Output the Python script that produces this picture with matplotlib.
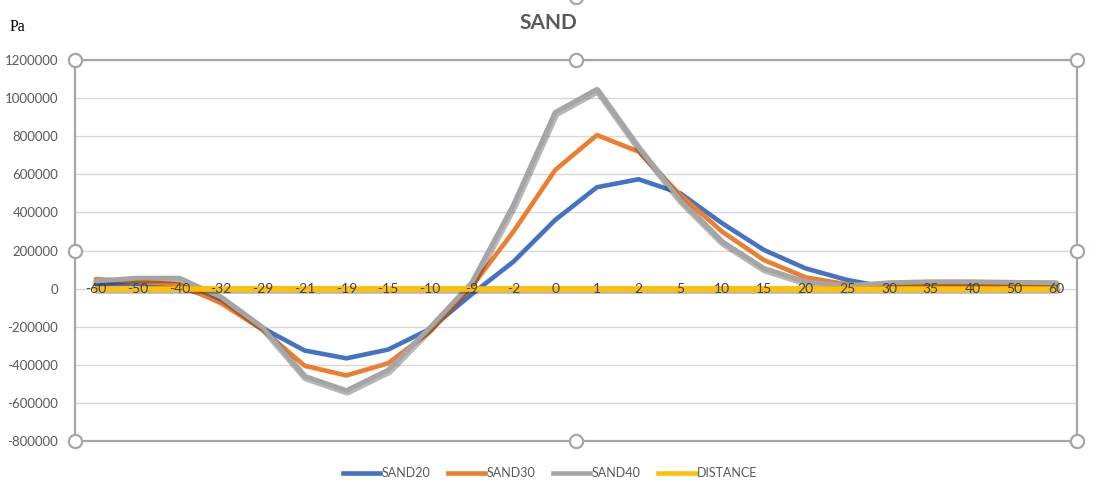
import matplotlib
matplotlib.use("Agg")
import matplotlib.pyplot as plt
import matplotlib.patheffects as pe
from matplotlib.lines import Line2D

# Distance categories along the section
categories = ["-60", "-50", "-40", "-32", "-29", "-21", "-19", "-15", "-10", "-9", "-2",
              "0", "1", "2", "5", "10", "15", "20", "25", "30", "35", "40", "50", "60"]

# Pressure (Pa) for each sand series
sand20 = [22000, 25000, 10000, -65000, -208000, -325000, -366000, -320000, -212000, -30000,
          141000, 360000, 532000, 574000, 500000, 343000, 203000, 106000, 45000, 5000,
          10000, 10000, 8000, 8000]
sand30 = [50000, 36000, 22000, -77000, -217000, -405000, -456000, -392000, -226000, 10000,
          299000, 622000, 806000, 719000, 491000, 299000, 150000, 59000, 22000, 15000,
          22000, 22000, 20000, 20000]
sand40 = [40000, 55000, 55000, -45000, -205000, -460000, -535000, -428000, -205000, 30000,
          439000, 925000, 1046000, 740000, 465000, 246000, 106000, 36000, 15000, 31000,
          36000, 36000, 33000, 31000]
distance = [0] * len(categories)

series_names = ["SAND20", "SAND30", "SAND40", "DISTANCE"]
series_colors = ["#4472C4", "#ED7D31", "#A5A5A5", "#FFC000"]
series_widths = [3.3, 3.3, 3.5, 4.0]
yticks = [-800000, -600000, -400000, -200000, 0, 200000, 400000, 600000, 800000, 1000000, 1200000]

text_color = "#595959"
frame_color = "#A6A6A6"
font = ["Lato", "DejaVu Sans"]

fig = plt.figure(figsize=(10.94, 4.80), dpi=100)
ax = fig.add_axes([75 / 1094, 1 - 441 / 480, 1002 / 1094, 381 / 480])

x = list(range(len(categories)))

all_series = [sand20, sand30, sand40, distance]
for i, (vals, name, col, lw) in enumerate(zip(all_series, series_names, series_colors, series_widths)):
    effects = None
    if name in ("SAND40", "DISTANCE"):
        effects = [pe.SimpleLineShadow(offset=(0.6, -1.2), shadow_color="black", alpha=0.28,
                                       linewidth=lw + 1.5),
                   pe.Normal()]
    ax.plot(x, vals, color=col, lw=lw, label=name, solid_joinstyle="round",
            solid_capstyle="round", path_effects=effects, zorder=3 + i)

ax.set_xlim(-0.5, len(categories) - 0.5)
ax.set_ylim(yticks[0], yticks[-1])
ax.set_yticks(yticks)
ax.set_yticklabels([str(v) for v in yticks], fontsize=9.5, color=text_color, family=font)
ax.tick_params(axis="y", length=0, pad=12)
ax.set_xticks([])
ax.grid(axis="y", color="#D9D9D9", lw=1.0, zorder=0)
ax.set_axisbelow(True)

# category labels sit on the zero line, above the series
for xi, lab in zip(x, categories):
    ax.text(xi, 0, lab, ha="center", va="center", fontsize=10, color="#404040",
            family=font, zorder=12)

for s in ax.spines.values():
    s.set_color(frame_color)
    s.set_linewidth(1.6)

# selection handles around the plot area
hx = [0, 0.5, 1, 0, 1, 0, 0.5, 1]
hy = [1, 1, 1, 0.5, 0.5, 0, 0, 0]
ax.plot(hx, hy, ls="none", marker="o", ms=9.5, mfc="white", mec=frame_color, mew=1.6,
        transform=ax.transAxes, clip_on=False, zorder=20)
fig.add_artist(Line2D([1101 / 1094], [1 - 247 / 480], ls="none", marker="o", ms=9.5,
                      mfc="white", mec=frame_color, mew=1.6, transform=fig.transFigure))
fig.add_artist(Line2D([576 / 1094], [1 + 3 / 480], ls="none", marker="o", ms=9.5,
                      mfc="white", mec=frame_color, mew=1.6, transform=fig.transFigure))

fig.text(548 / 1094, 1 - 23 / 480, "SAND", ha="center", va="center", fontsize=15,
         fontweight="bold", color=text_color, family=font)
fig.text(10 / 1094, 1 - 27 / 480, "Pa", ha="left", va="center", fontsize=11.5,
         color="black", family=["Liberation Serif", "DejaVu Serif"])

handles = [Line2D([0], [0], color=c, lw=3.3) for c in series_colors]
leg = fig.legend(handles, series_names, loc="center", bbox_to_anchor=(550 / 1094, 1 - 473 / 480),
                 ncol=4, frameon=False, handlelength=3.0, handletextpad=0.1, columnspacing=1.4,
                 prop={"family": font, "size": 9})
for t in leg.get_texts():
    t.set_color(text_color)

fig.savefig("out.png", dpi=100, facecolor="white")
